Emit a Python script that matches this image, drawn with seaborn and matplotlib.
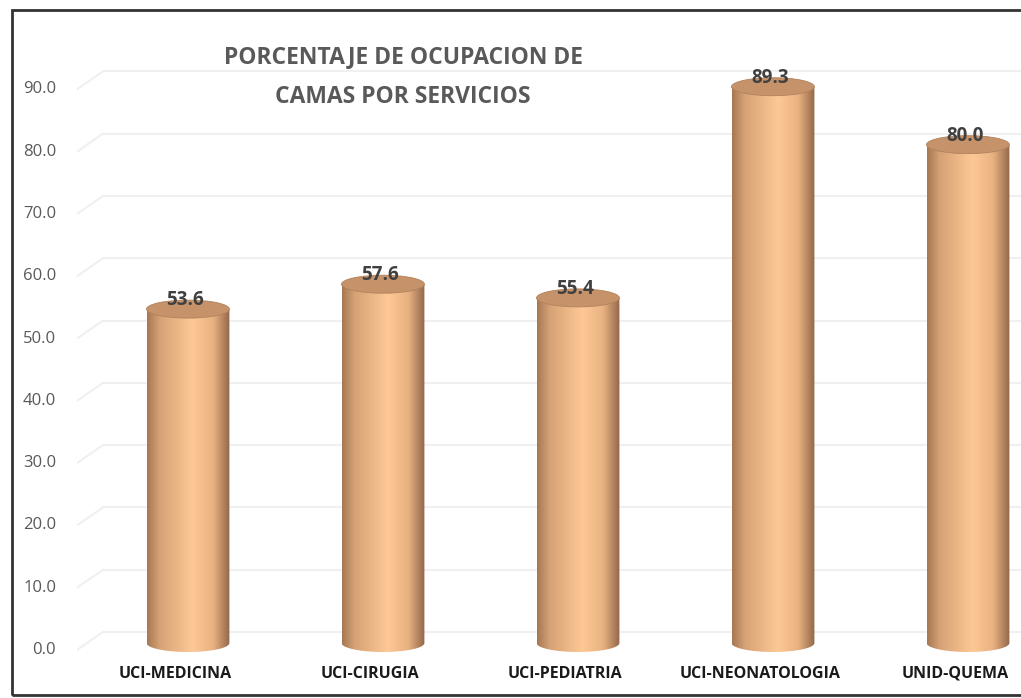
import numpy as np
import matplotlib
matplotlib.use("Agg")
import matplotlib.pyplot as plt
import seaborn as sns
from matplotlib.patches import Polygon, Ellipse, Rectangle
from matplotlib.colors import LinearSegmentedColormap
from matplotlib.transforms import ScaledTranslation

# datos
servicios = ['UCI-MEDICINA', 'UCI-CIRUGIA', 'UCI-PEDIATRIA', 'UCI-NEONATOLOGIA', 'UNID-QUEMA']
ocupacion = [53.6, 57.6, 55.4, 89.3, 80.0]
ticks_y = [0, 10, 20, 30, 40, 50, 60, 70, 80, 90]
titulo = 'PORCENTAJE DE OCUPACION DE\nCAMAS POR SERVICIOS'

sns.set_style("white")
plt.rcParams['font.family'] = ['Open Sans', 'DejaVu Sans']

W, H = 1021, 698
fig = plt.figure(figsize=(W / 100, H / 100), dpi=100)
ax = fig.add_axes([77 / W, 1 - 660 / H, 1 - 77 / W, 620 / H])

sns.barplot(x=servicios, y=ocupacion, ax=ax, width=0.425, color='#fdc896', zorder=3)

ymin, ymax = -2.73, 96.8
px = 620 / (ymax - ymin)      # pixeles por unidad
eh = 18 / px                  # alto de la elipse

cilindro = LinearSegmentedColormap.from_list(
    'cil', [(0.0, '#a57853'), (0.15, '#d6a175'), (0.55, '#fec896'),
            (0.8, '#e8b181'), (1.0, '#92674a')])
grad = np.linspace(0, 1, 256).reshape(1, -1)

for p, v in zip(ax.patches, ocupacion):
    x0, w, h = p.get_x(), p.get_width(), p.get_height()
    cx = x0 + w / 2
    p.set_visible(False)

    t = np.linspace(np.pi, 2 * np.pi, 80)
    pts = [(x0, h)] + list(zip(cx + w / 2 * np.cos(t), eh / 2 * np.sin(t))) + [(x0 + w, h)]
    clip = Polygon(pts, closed=True, transform=ax.transData)
    im = ax.imshow(grad, extent=(x0, x0 + w, -eh, h), aspect='auto', cmap=cilindro,
                   zorder=3, interpolation='bilinear')
    im.set_clip_path(clip)

    ax.add_patch(Ellipse((cx, h), w, eh, facecolor='#c6926a', edgecolor='#b0825c',
                         lw=0.6, zorder=4))
    ax.text(cx - 0.015, h + 1.4, f'{v:.1f}', ha='center', va='center', fontsize=13.5,
            fontweight='bold', color='#404040', zorder=5)

# lineas de division con perspectiva
tr = ax.get_yaxis_transform()
dx = 26 / (W - 77)
for v in ticks_y:
    ax.plot([dx, 1], [v + 11 / px] * 2, color='#f0f0f0', lw=1.5, transform=tr, zorder=1)
    ax.plot([0, dx], [v - 7 / px, v + 11 / px], color='#f0f0f0', lw=1.5, transform=tr, zorder=1)

ax.set_xlim(-0.569, 4.272)
ax.set_ylim(ymin, ymax)
ax.set_yticks(ticks_y)
ax.set_yticklabels([f'{v:.1f}' for v in ticks_y], fontsize=12, color='#595959')
ax.tick_params(axis='y', length=0, pad=15)
ax.tick_params(axis='x', length=0, pad=4)
for lab in ax.get_yticklabels():
    lab.set_transform(lab.get_transform() + ScaledTranslation(0, -0.05, fig.dpi_scale_trans))
for lab in ax.get_xticklabels():
    lab.set_fontweight('bold')
    lab.set_fontsize(11.5)
    lab.set_color('#1a1a1a')
    lab.set_transform(lab.get_transform() + ScaledTranslation(-0.13, 0, fig.dpi_scale_trans))
ax.set_xlabel('')
ax.set_ylabel('')
sns.despine(ax=ax, left=True, bottom=True)
ax.grid(False)

fig.text(403 / W, 1 - 77 / H, titulo, ha='center', va='center', fontsize=16.5,
         fontweight='bold', color='#595959', linespacing=1.85)

fig.add_artist(Rectangle((12 / W, 1 - 695 / H), 1.0, 685 / H, transform=fig.transFigure,
                         fill=False, edgecolor='#333333', lw=2))

fig.savefig('out.png', dpi=100)
